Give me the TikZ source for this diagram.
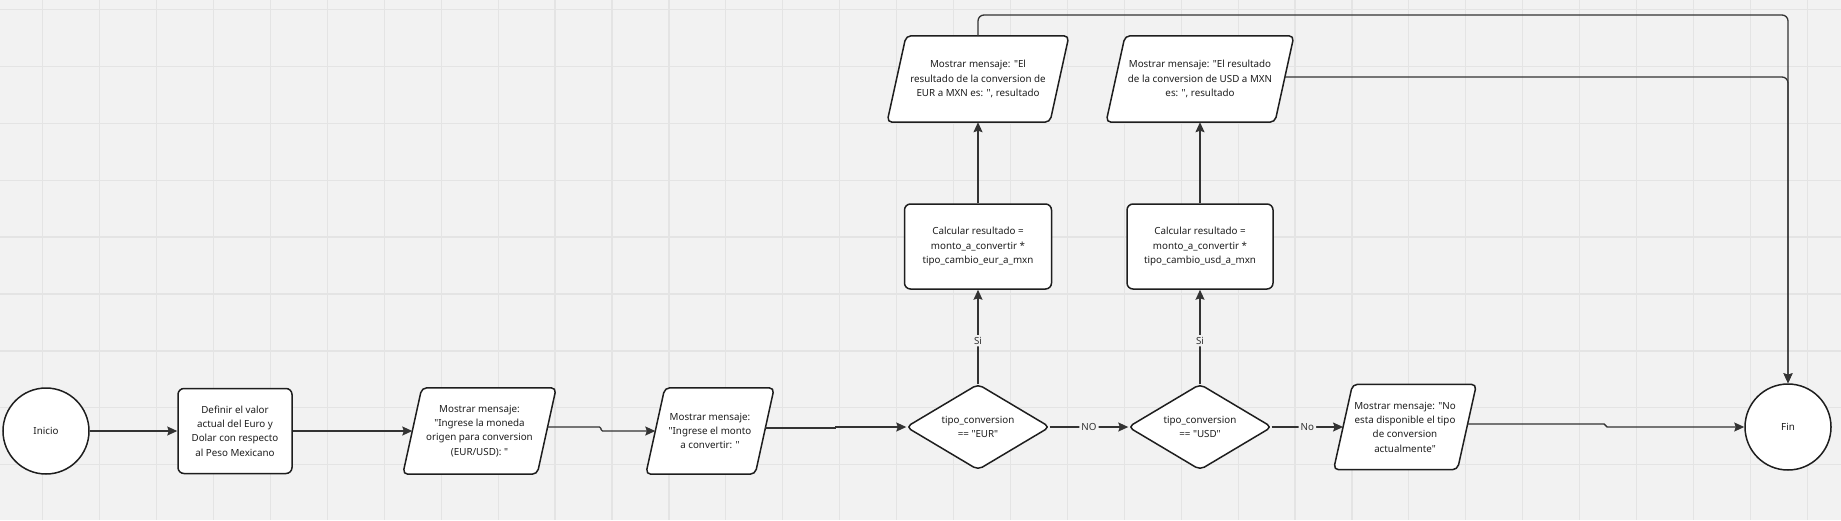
\documentclass[tikz,border=0pt]{standalone}
\usepackage{fontspec}
\setmainfont{Noto Sans}[Ligatures=TeXOff]
\usetikzlibrary{arrows.meta,backgrounds,calc}
\definecolor{bg}{HTML}{F2F2F2}
\definecolor{gridc}{HTML}{E4E4E4}
\definecolor{ink}{HTML}{1E1E1E}
\definecolor{linec}{HTML}{333333}
\begin{document}
\begin{tikzpicture}[x=1pt,y=-1pt,
  every node/.style={font=\fontsize{9.8}{14.3}\selectfont, text=ink, align=center},
  txt/.style={inner sep=0pt},
  boxn/.style={draw=ink, line width=1.5pt, fill=white, rounded corners=6pt, inner sep=0pt},
  circn/.style={circle, draw=ink, line width=1.5pt, fill=white, minimum size=86pt, inner sep=0pt},
  shp/.style={draw=ink, line width=1.5pt, fill=white, rounded corners=5pt, line join=round},
  conn/.style={draw=linec, line width=1.3pt, -{Stealth[length=10pt,width=9pt,inset=1.5pt]}, rounded corners=1.5pt},
  lbl/.style={fill=bg, inner sep=2pt, text=linec},
  gridline/.style={draw=gridc, line width=1.2pt}]
\useasboundingbox (0,0) rectangle (1841,520);

% nodes
\node[circn] (ini) at (46,431) {Inicio};
\node[boxn, minimum width=114pt, minimum height=85pt] (def) at (235,431)
  {Definir el valor\\actual del Euro y\\Dolar con respecto\\al Peso Mexicano};
\node[txt, minimum width=134pt, minimum height=86pt] (p1) at (479.5,431)
  {Mostrar mensaje:\\"Ingrese la moneda\\origen para conversion\\(EUR/USD): "};
\node[txt, minimum width=109pt, minimum height=86pt] (p2) at (710,431)
  {Mostrar mensaje:\\"Ingrese el monto\\a convertir: "};
\node[txt, minimum width=143pt, minimum height=85pt] (dE) at (978,427)
  {tipo\_conversion\\== "EUR"};
\node[txt, minimum width=143pt, minimum height=85pt] (dU) at (1200,427)
  {tipo\_conversion\\== "USD"};
\node[txt, minimum width=123.5pt, minimum height=85pt] (p3) at (1405,427)
  {Mostrar mensaje: "No\\esta disponible el tipo\\de conversion\\actualmente"};
\node[circn] (fin) at (1788,427) {Fin};
\node[boxn, minimum width=147pt, minimum height=85pt] (cE) at (978,246.5)
  {Calcular resultado =\\monto\_a\_convertir *\\tipo\_cambio\_eur\_a\_mxn};
\node[boxn, minimum width=146pt, minimum height=85pt] (cU) at (1200,246.5)
  {Calcular resultado =\\monto\_a\_convertir *\\tipo\_cambio\_usd\_a\_mxn};
\node[txt, minimum width=162.5pt, minimum height=86pt] (pE) at (978,79)
  {Mostrar mensaje: "El\\resultado de la conversion de\\EUR a MXN es: ", resultado};
\node[txt, minimum width=168.5pt, minimum height=86pt] (pU) at (1200,79)
  {Mostrar mensaje: "El resultado\\de la conversion de USD a MXN\\es: ", resultado};

\coordinate (m1) at ($(p1.east)!0.5!(p2.west)$);
\coordinate (m2) at ($(p2.east)!0.5!(dE.west)$);
\coordinate (m3) at ($(p3.east)!0.5!(fin.west)$);
\coordinate (topc) at (1788,15);

% background, grid and outlined shapes
\begin{scope}[on background layer]
  \fill[bg] (0,0) rectangle (1841,520);
  \foreach \k in {0,...,31} \draw[gridline] ({42.8+\k*56.92},0) -- ({42.8+\k*56.92},520);
  \foreach \k in {0,...,8} \draw[gridline] (0,{9.4+\k*56.92}) -- (1841,{9.4+\k*56.92});
  \foreach \n in {p1,p2,p3,pE,pU}
    \path[shp] ([xshift=9.5pt]\n.north west) -- ([xshift=9.5pt]\n.north east)
      -- ([xshift=-9.5pt]\n.south east) -- ([xshift=-9.5pt]\n.south west) -- cycle;
  \foreach \n in {dE,dU}
    \path[shp] (\n.west) -- (\n.north) -- (\n.east) -- (\n.south) -- cycle;
\end{scope}

% connectors
\draw[conn] (ini.east) -- (def.west);
\draw[conn] (def.east) -- (p1.west);
\draw[conn] ([xshift=1pt,yshift=4pt]p1.east) -| (m1 |- p2.west) -- (p2.west);
\draw[conn, sharp corners] ([xshift=0.7pt,yshift=3pt]p2.east) -| (m2 |- dE.west) -- (dE.west);
\draw[conn] (dE.east) -- node[lbl]{NO} (dU.west);
\draw[conn] (dU.east) -- node[lbl]{No} (p3.west);
\draw[conn] ([xshift=0.7pt,yshift=3pt]p3.east) -| (m3 |- fin.west) -- (fin.west);
\draw[conn] (dE.north) -- node[lbl, pos=0.46]{Si} (cE.south);
\draw[conn] (dU.north) -- node[lbl, pos=0.46]{Si} (cU.south);
\draw[conn] (cE.north) -- (pE.south);
\draw[conn] (cU.north) -- (pU.south);
\draw[conn, rounded corners=6pt] (pE.north) |- (topc) -- (fin.north);
\draw[conn, rounded corners=6pt] ([xshift=0.5pt,yshift=2pt]pU.east) -| (fin.north);
\end{tikzpicture}
\end{document}
